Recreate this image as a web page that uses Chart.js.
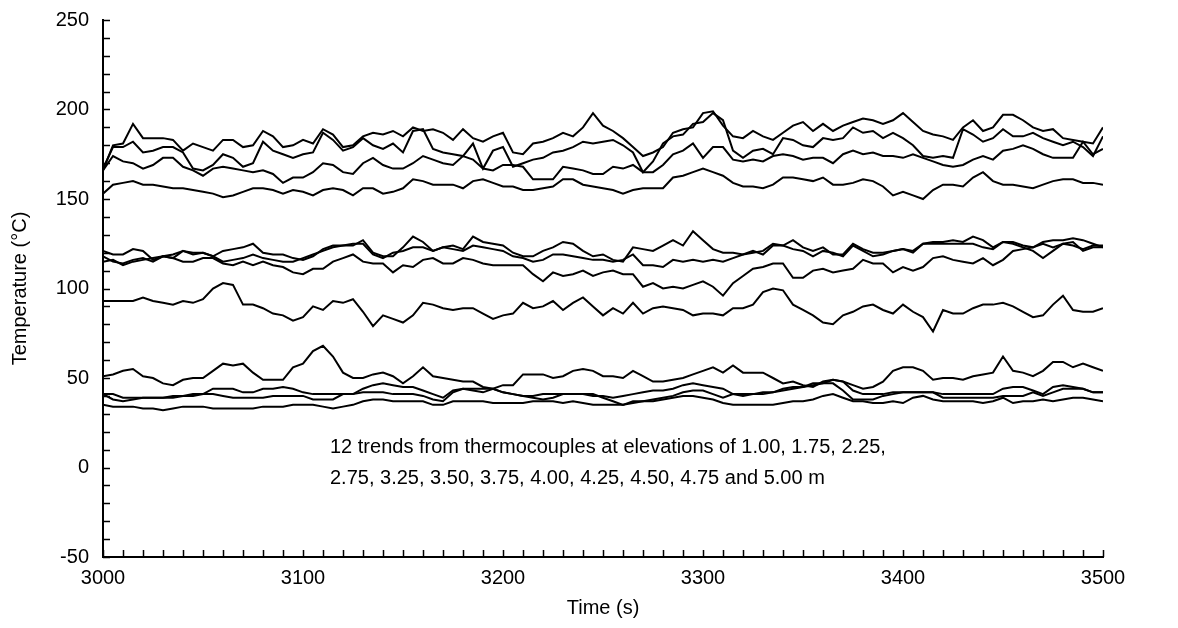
<!DOCTYPE html>
<html>
  <head>
    <script src="https://cdn.jsdelivr.net/npm/chart.js@4"></script>
    <style>
      html, body { margin: 0; padding: 0; background: #fff; }
      #wrap { width: 1178px; height: 628px; }
    </style>
  </head>
  <body>
    <div id="wrap"><canvas id="canvas"></canvas></div>
    <script>
      // time axis: one reading every 5 s from 3000 to 3500
      const timeStart = 3000;
      const timeStep = 5;

      // upper group (four thermocouples)
      const tcA = [166,180,181,192,184,184,184,183,177,181,179,177,183,183,179,180,188,185,179,180,183,181,189,186,179,
        180,185,187,186,188,185,190,188,189,187,183,189,184,182,185,187,176,175,181,182,184,187,185,190,198,
        191,188,184,179,174,176,179,187,189,190,198,199,191,185,184,188,185,183,187,191,193,188,192,188,191,
        193,195,194,192,194,198,193,188,186,185,183,190,194,188,190,197,197,194,190,188,189,184,183,182,181,190];
      const tcB = [167,179,179,182,176,177,179,179,176,167,166,169,175,173,168,170,182,177,175,173,175,176,187,183,177,
        179,184,180,178,181,176,188,189,178,176,175,174,181,167,177,179,168,170,172,173,176,177,179,182,181,
        182,183,180,176,165,171,181,185,186,192,193,198,194,177,173,177,178,175,184,183,180,179,184,183,184,
        190,187,188,184,187,184,180,174,173,174,173,189,186,182,184,189,185,185,187,184,182,180,182,179,174,185];
      const tcC = [166,174,171,170,167,169,173,173,168,166,163,167,168,167,166,165,166,164,159,162,162,165,170,169,165,
        164,170,173,169,167,167,170,174,172,170,169,174,172,167,166,169,169,168,161,161,161,168,167,166,164,
        164,168,167,169,165,165,169,175,177,181,173,179,179,172,171,172,171,174,175,174,172,173,173,170,175,
        177,175,176,174,174,173,175,173,171,169,168,169,172,174,172,177,178,180,178,175,173,173,173,182,175,178];
      const tcD = [153,158,159,160,158,158,157,156,156,155,154,153,151,152,154,156,156,155,153,155,154,152,155,156,155,
        152,156,156,153,154,156,161,160,158,158,158,156,160,161,159,157,157,155,155,156,157,161,161,158,157,
        156,155,153,155,156,156,156,162,163,165,167,165,163,159,157,157,156,158,162,162,161,160,162,158,158,
        159,161,160,157,152,154,152,150,155,158,158,157,162,165,160,158,158,157,156,158,160,161,161,159,159,158];

      // middle group
      const tcE = [121,119,119,122,121,116,118,119,121,120,120,118,121,122,123,125,120,119,119,117,116,118,122,124,124,
        124,127,120,118,118,123,129,126,121,123,124,122,129,126,125,124,120,118,118,121,123,126,125,121,118,
        119,116,115,123,122,121,124,127,124,132,127,122,120,120,119,121,119,124,124,127,123,121,123,119,119,
        125,122,120,120,121,122,121,125,126,126,127,126,129,127,123,126,126,124,123,126,127,127,128,127,125,123];
      const tcF = [118,115,114,116,117,115,118,117,121,119,120,118,115,116,117,119,117,116,115,115,117,119,121,123,124,
        125,125,119,117,120,121,123,123,121,123,122,121,124,123,122,121,118,117,115,116,119,119,118,117,116,
        116,115,116,119,113,113,112,116,115,116,115,116,115,117,119,120,121,125,124,122,121,118,121,120,118,
        124,121,118,119,121,122,120,125,125,125,125,125,125,123,122,126,125,123,121,117,121,125,126,121,123,123];
      const tcG = [115,116,113,115,116,117,118,117,115,115,117,117,114,113,115,113,115,113,112,109,108,111,111,115,117,
        119,115,114,114,109,113,112,116,117,114,114,117,116,114,113,113,113,113,108,104,109,107,108,110,107,
        109,110,108,108,101,103,100,101,100,102,104,101,96,103,107,111,112,114,114,106,106,110,111,109,110,
        111,116,114,114,109,112,110,112,117,118,116,115,114,117,113,116,121,122,123,125,123,125,124,122,124,124];
      const tcH = [93,93,93,93,95,93,92,91,93,92,94,100,103,102,91,91,89,86,85,82,84,90,88,93,92,
        94,87,79,85,83,81,85,92,91,89,88,89,89,86,83,85,86,92,89,90,93,88,92,95,90,
        85,89,86,92,86,89,90,89,88,85,86,86,85,89,89,91,98,100,99,91,88,85,81,80,85,
        87,90,91,88,86,91,87,84,76,88,86,86,89,91,91,92,90,87,84,85,91,96,88,87,87,89];

      // lower group
      const tcI = [51,52,54,55,51,50,47,46,49,50,50,54,58,57,58,53,49,49,49,56,58,65,68,62,53,
        50,50,52,53,51,47,51,56,51,50,49,48,48,45,44,46,46,52,52,52,50,51,54,55,54,
        51,51,50,54,51,48,48,49,50,52,54,56,53,57,53,53,53,50,47,48,46,45,48,49,48,
        46,44,45,48,54,56,56,54,49,50,50,49,51,52,53,62,54,53,51,54,59,59,56,58,56,54];
      const tcJ = [41,41,39,39,39,39,39,39,40,40,41,44,44,44,42,42,44,44,45,44,42,41,41,41,41,
        41,44,46,47,46,45,45,43,41,39,43,44,43,42,44,42,41,40,40,41,41,41,41,41,40,
        40,39,40,41,42,43,43,44,46,47,46,45,44,41,40,41,42,42,44,45,45,47,47,49,48,
        43,41,41,41,42,42,42,42,42,41,41,41,41,41,41,44,45,45,43,41,45,46,45,44,42,42];
      const tcK = [41,38,37,38,39,39,39,40,40,41,41,41,40,39,39,39,39,40,40,40,40,38,38,38,41,
        41,42,42,42,41,41,41,40,38,37,42,44,44,44,44,42,41,40,39,38,39,41,41,41,41,
        39,37,35,37,37,38,39,40,42,43,43,41,39,41,41,41,41,42,43,44,45,46,47,47,43,
        38,38,38,40,41,42,42,42,42,39,39,39,39,39,39,40,40,40,42,40,42,44,44,44,42,42];
      const tcL = [35,34,34,34,33,33,32,33,34,34,34,33,33,33,33,33,34,34,34,35,35,35,34,33,34,
        35,37,38,38,37,37,37,37,35,35,37,37,37,37,36,36,36,36,37,37,37,36,37,36,35,
        35,35,35,36,37,37,38,39,40,40,39,38,36,35,35,35,35,35,36,37,37,38,40,41,39,
        37,37,36,36,37,36,39,40,38,37,37,37,37,36,37,39,36,37,37,38,37,38,39,39,38,37];

      const allSeries = [tcA, tcB, tcC, tcD, tcE, tcF, tcG, tcH, tcI, tcJ, tcK, tcL];

      const noteLines = [
        '12 trends from thermocouples at elevations of 1.00, 1.75, 2.25,',
        '2.75, 3.25, 3.50, 3.75, 4.00, 4.25, 4.50, 4.75 and 5.00 m'
      ];

      const FONT = '"Liberation Sans", Arial, sans-serif';
      Chart.defaults.font.family = FONT;
      Chart.defaults.font.size = 20;
      Chart.defaults.color = '#000';

      // tick marks drawn inside the plot, plus the note
      const insideTicks = {
        id: 'insideTicks',
        afterDraw(chart) {
          const { ctx, chartArea: a, scales } = chart;
          ctx.save();
          ctx.strokeStyle = '#000';
          ctx.lineWidth = 1.5;
          ctx.beginPath();
          scales.y.ticks.forEach((t) => {
            const p = Math.round(scales.y.getPixelForValue(t.value)) + 0.5;
            ctx.moveTo(a.left, p);
            ctx.lineTo(a.left + 7, p);
          });
          scales.x.ticks.forEach((t) => {
            const p = Math.round(scales.x.getPixelForValue(t.value)) + 0.5;
            ctx.moveTo(p, a.bottom);
            ctx.lineTo(p, a.bottom - 7);
          });
          ctx.stroke();
          ctx.fillStyle = '#000';
          ctx.font = '20px ' + FONT;
          ctx.textBaseline = 'middle';
          ctx.textAlign = 'left';
          noteLines.forEach((s, i) => ctx.fillText(s, 330, 447 + i * 31));
          ctx.restore();
        }
      };

      const datasets = allSeries.map((vals, k) => ({
        label: 'TC' + (k + 1),
        data: vals.map((v, i) => ({ x: timeStart + i * timeStep, y: v })),
        borderColor: '#000',
        borderWidth: 2,
        pointRadius: 0,
        tension: 0,
        fill: false
      }));

      new Chart(document.getElementById('canvas').getContext('2d'), {
        type: 'line',
        data: { datasets },
        plugins: [insideTicks],
        options: {
          responsive: true,
          maintainAspectRatio: false,
          animation: false,
          layout: { padding: { top: 20, right: 75, left: 0, bottom: 0 } },
          plugins: { legend: { display: false }, tooltip: { enabled: false } },
          scales: {
            x: {
              type: 'linear',
              min: 3000,
              max: 3500,
              afterFit: (s) => { s.height = 71; s.paddingLeft = 0; s.paddingRight = 0; },
              border: { display: true, color: '#000', width: 2 },
              grid: { display: true, drawOnChartArea: false, drawTicks: false },
              ticks: {
                stepSize: 10,
                autoSkip: false,
                maxRotation: 0,
                padding: 9,
                callback: (v) => (v % 100 === 0 ? String(v) : '')
              },
              title: { display: true, text: 'Time (s)', padding: { top: 0, bottom: 8 } }
            },
            y: {
              min: -50,
              max: 250,
              afterFit: (s) => { s.width = 103; s.paddingTop = 0; s.paddingBottom = 0; },
              border: { display: true, color: '#000', width: 2 },
              grid: { display: true, drawOnChartArea: false, drawTicks: false },
              ticks: {
                stepSize: 10,
                autoSkip: false,
                padding: 14,
                callback: (v) => (v % 50 === 0 ? String(v) : '')
              },
              title: { display: true, text: 'Temperature (°C)', padding: { top: 8, bottom: 0 } }
            }
          }
        }
      });
    </script>
  </body>
</html>
